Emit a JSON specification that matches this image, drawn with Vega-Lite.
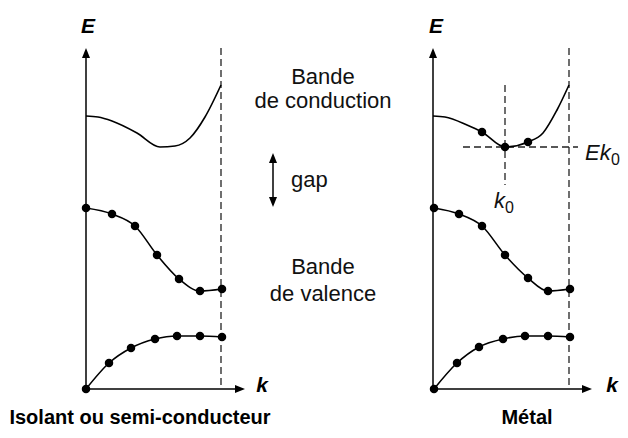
{
  "$schema": "https://vega.github.io/schema/vega-lite/v6.json",
  "width": 628,
  "height": 438,
  "autosize": {"type": "fit", "contains": "padding"},
  "padding": 0,
  "background": "white",
  "config": {"view": {"stroke": null}, "font": "Liberation Sans"},
  "datasets": {
    "axes": [
      {"x": 86, "y": 52, "x2": 86, "y2": 389},
      {"x": 86, "y": 389, "x2": 240, "y2": 389},
      {"x": 433, "y": 52, "x2": 433, "y2": 389},
      {"x": 433, "y": 389, "x2": 587, "y2": 389},
      {"x": 273, "y": 158, "x2": 273, "y2": 202}
    ],
    "dashed": [
      {"x": 221, "y": 48, "x2": 221, "y2": 389},
      {"x": 569, "y": 48, "x2": 569, "y2": 389},
      {"x": 505, "y": 85, "x2": 505, "y2": 185},
      {"x": 463, "y": 147, "x2": 578, "y2": 147}
    ],
    "curves": [
      {"s": "c1", "x": 86, "y": 116}, {"s": "c1", "x": 98, "y": 117}, {"s": "c1", "x": 112, "y": 121}, {"s": "c1", "x": 137, "y": 133}, {"s": "c1", "x": 160, "y": 147}, {"s": "c1", "x": 175, "y": 146}, {"s": "c1", "x": 190, "y": 138}, {"s": "c1", "x": 205, "y": 117}, {"s": "c1", "x": 221, "y": 85},
      {"s": "v1", "x": 86, "y": 208}, {"s": "v1", "x": 112, "y": 214}, {"s": "v1", "x": 135, "y": 226}, {"s": "v1", "x": 157, "y": 255}, {"s": "v1", "x": 179, "y": 279}, {"s": "v1", "x": 200, "y": 291}, {"s": "v1", "x": 222, "y": 289},
      {"s": "l1", "x": 86, "y": 389}, {"s": "l1", "x": 109, "y": 363}, {"s": "l1", "x": 131, "y": 348}, {"s": "l1", "x": 155, "y": 339}, {"s": "l1", "x": 177, "y": 336}, {"s": "l1", "x": 200, "y": 336}, {"s": "l1", "x": 222, "y": 337},
      {"s": "c2", "x": 433, "y": 116}, {"s": "c2", "x": 445, "y": 117}, {"s": "c2", "x": 467, "y": 125}, {"s": "c2", "x": 482, "y": 132}, {"s": "c2", "x": 505, "y": 147}, {"s": "c2", "x": 528, "y": 142}, {"s": "c2", "x": 543, "y": 133}, {"s": "c2", "x": 557, "y": 110}, {"s": "c2", "x": 569, "y": 85},
      {"s": "v2", "x": 434, "y": 208}, {"s": "v2", "x": 459, "y": 214}, {"s": "v2", "x": 482, "y": 226}, {"s": "v2", "x": 505, "y": 255}, {"s": "v2", "x": 528, "y": 278}, {"s": "v2", "x": 548, "y": 291}, {"s": "v2", "x": 570, "y": 289},
      {"s": "l2", "x": 434, "y": 389}, {"s": "l2", "x": 457, "y": 363}, {"s": "l2", "x": 479, "y": 347}, {"s": "l2", "x": 503, "y": 339}, {"s": "l2", "x": 525, "y": 336}, {"s": "l2", "x": 548, "y": 336}, {"s": "l2", "x": 570, "y": 337}
    ],
    "dots": [
      {"x": 86, "y": 208}, {"x": 112, "y": 214}, {"x": 135, "y": 226}, {"x": 157, "y": 255}, {"x": 179, "y": 279}, {"x": 200, "y": 291}, {"x": 222, "y": 289},
      {"x": 86, "y": 389}, {"x": 109, "y": 363}, {"x": 131, "y": 348}, {"x": 155, "y": 339}, {"x": 177, "y": 336}, {"x": 200, "y": 336}, {"x": 222, "y": 337},
      {"x": 482, "y": 132}, {"x": 505, "y": 147}, {"x": 528, "y": 142},
      {"x": 434, "y": 208}, {"x": 459, "y": 214}, {"x": 482, "y": 226}, {"x": 505, "y": 255}, {"x": 528, "y": 278}, {"x": 548, "y": 291}, {"x": 570, "y": 289},
      {"x": 434, "y": 389}, {"x": 457, "y": 363}, {"x": 479, "y": 347}, {"x": 503, "y": 339}, {"x": 525, "y": 336}, {"x": 548, "y": 336}, {"x": 570, "y": 337}
    ],
    "heads": [
      {"x": 86, "y": 53, "shape": "M0,-1L0.8,1L-0.8,1Z"},
      {"x": 433, "y": 53, "shape": "M0,-1L0.8,1L-0.8,1Z"},
      {"x": 240, "y": 389, "shape": "M1,0L-1,0.8L-1,-0.8Z"},
      {"x": 587, "y": 389, "shape": "M1,0L-1,0.8L-1,-0.8Z"},
      {"x": 273, "y": 158, "shape": "M0,-1L0.8,1L-0.8,1Z"},
      {"x": 273, "y": 202, "shape": "M0,1L0.8,-1L-0.8,-1Z"}
    ],
    "labels": [
      {"x": 323, "y": 77, "t": "Bande"},
      {"x": 323, "y": 101, "t": "de conduction"},
      {"x": 323, "y": 267, "t": "Bande"},
      {"x": 323, "y": 294, "t": "de valence"}
    ],
    "leftlabels": [
      {"x": 291, "y": 180, "t": "gap"}
    ],
    "bolditalic": [
      {"x": 88, "y": 27, "t": "E"},
      {"x": 436, "y": 27, "t": "E"},
      {"x": 262, "y": 386, "t": "k"},
      {"x": 612, "y": 386, "t": "k"}
    ],
    "bold": [
      {"x": 140, "y": 418, "t": "Isolant ou semi-conducteur"},
      {"x": 527, "y": 418, "t": "Métal"}
    ],
    "italic": [
      {"x": 494, "y": 201, "t": "k"},
      {"x": 585, "y": 153, "t": "Ek"}
    ],
    "subs": [
      {"x": 505, "y": 208, "t": "0"},
      {"x": 611, "y": 160, "t": "0"}
    ]
  },
  "encoding": {
    "x": {"field": "x", "type": "quantitative", "scale": {"domain": [0, 628]}, "axis": null},
    "y": {"field": "y", "type": "quantitative", "scale": {"domain": [0, 438], "reverse": true}, "axis": null}
  },
  "layer": [
    {
      "data": {"name": "axes"},
      "mark": {"type": "rule", "color": "black", "strokeWidth": 1.5},
      "encoding": {"x2": {"field": "x2"}, "y2": {"field": "y2"}}
    },
    {
      "data": {"name": "dashed"},
      "mark": {"type": "rule", "color": "#222", "strokeWidth": 1.3, "strokeDash": [7, 4]},
      "encoding": {"x2": {"field": "x2"}, "y2": {"field": "y2"}}
    },
    {
      "data": {"name": "curves"},
      "mark": {"type": "line", "color": "black", "strokeWidth": 1.6, "interpolate": "monotone"},
      "encoding": {"detail": {"field": "s", "type": "nominal"}, "order": {"field": "x", "type": "quantitative"}}
    },
    {
      "data": {"name": "dots"},
      "mark": {"type": "point", "shape": "circle", "filled": true, "color": "black", "opacity": 1, "size": 72},
      "encoding": {}
    },
    {
      "data": {"name": "heads"},
      "mark": {"type": "point", "filled": true, "color": "black", "opacity": 1, "size": 100},
      "encoding": {"shape": {"field": "shape", "type": "nominal", "scale": null}}
    },
    {
      "data": {"name": "labels"},
      "mark": {"type": "text", "fontSize": 22, "align": "center", "baseline": "middle", "color": "#111"},
      "encoding": {"text": {"field": "t"}}
    },
    {
      "data": {"name": "leftlabels"},
      "mark": {"type": "text", "fontSize": 22, "align": "left", "baseline": "middle", "color": "#111"},
      "encoding": {"text": {"field": "t"}}
    },
    {
      "data": {"name": "bolditalic"},
      "mark": {"type": "text", "fontSize": 21, "fontWeight": "bold", "fontStyle": "italic", "align": "center", "baseline": "middle", "color": "black"},
      "encoding": {"text": {"field": "t"}}
    },
    {
      "data": {"name": "bold"},
      "mark": {"type": "text", "fontSize": 20, "fontWeight": "bold", "align": "center", "baseline": "middle", "color": "black"},
      "encoding": {"text": {"field": "t"}}
    },
    {
      "data": {"name": "italic"},
      "mark": {"type": "text", "fontSize": 22, "fontStyle": "italic", "align": "left", "baseline": "middle", "color": "#111"},
      "encoding": {"text": {"field": "t"}}
    },
    {
      "data": {"name": "subs"},
      "mark": {"type": "text", "fontSize": 16, "align": "left", "baseline": "middle", "color": "#111"},
      "encoding": {"text": {"field": "t"}}
    }
  ]
}
